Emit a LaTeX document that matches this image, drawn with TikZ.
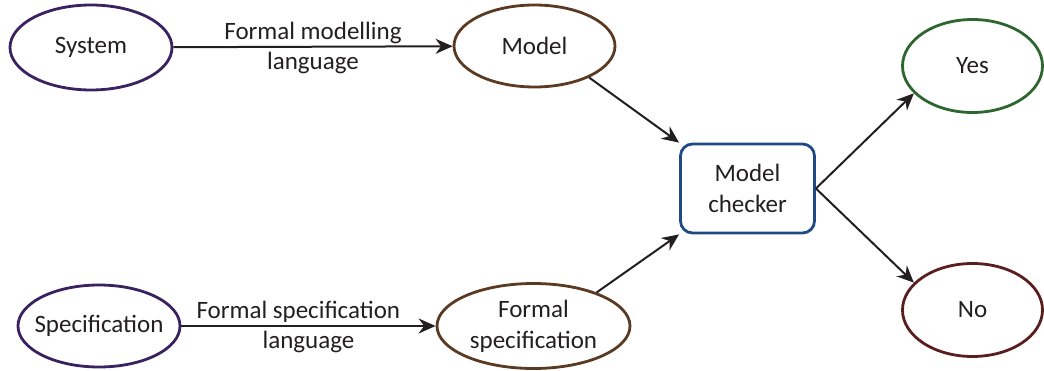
\documentclass[tikz,border=0pt]{standalone}
\usepackage{fontspec}
\setmainfont{Carlito}
\usetikzlibrary{shapes.geometric,arrows.meta}
\definecolor{cpurple}{HTML}{3A2160}
\definecolor{cbrown}{HTML}{5A3A22}
\definecolor{cgreen}{HTML}{2E6630}
\definecolor{cred}{HTML}{5A1E1E}
\definecolor{cblue}{HTML}{1F4A85}
\definecolor{cink}{HTML}{231F20}
\tikzset{
  oval/.style={ellipse, draw=#1, line width=2.8pt, inner sep=0pt, text=cink, align=center},
  checkbox/.style={rectangle, rounded corners=12pt, draw=cblue, line width=2.8pt, inner sep=0pt, text=cink, align=center},
  conn/.style={draw=cink, line width=2pt, -{Stealth[length=17pt,width=15pt]}},
  lbl/.style={text=cink, font=\fontsize{25}{30}\selectfont}
}
\begin{document}
\begin{tikzpicture}[x=1pt,y=-1pt,font=\fontsize{25}{31}\selectfont]
\useasboundingbox (0,0) rectangle (1044,371);
\node[oval=cpurple, minimum width=162pt, minimum height=85pt] (sys) at (91,47.5) {System};
\node[oval=cbrown, minimum width=161pt, minimum height=82pt] (mod) at (534.5,46) {Model};
\node[oval=cpurple, minimum width=162pt, minimum height=82pt] (spec) at (99,326) {\makebox[0pt]{Specification}};
\node[oval=cbrown, minimum width=193pt, minimum height=85pt] (fs) at (533.5,326) {\makebox[0pt]{Formal}\\\makebox[0pt]{specification}};
\node[checkbox, minimum width=134pt, minimum height=89pt] (mc) at (747.5,188.5) {Model\\checker};
\node[oval=cgreen, minimum width=140pt, minimum height=93pt] (yes) at (972.5,66) {Yes};
\node[oval=cred, minimum width=140pt, minimum height=93pt] (no) at (972.5,310) {No};
\draw[conn] (sys) -- (mod) node[lbl, midway, above, inner sep=2pt] {Formal modelling} node[lbl, midway, below, inner sep=4pt] {language};
\draw[conn] (spec) -- (fs) node[lbl, pos=0.46, above, inner sep=2pt] {Formal specification} node[lbl, midway, below, inner sep=4pt] {language};
\draw[conn] (mod.330) -- (mc.north west);
\draw[conn] (fs.28) -- (mc.south west);
\draw[conn] (mc.east) -- (yes.205);
\draw[conn] (mc.east) -- (no.155);
\end{tikzpicture}
\end{document}
